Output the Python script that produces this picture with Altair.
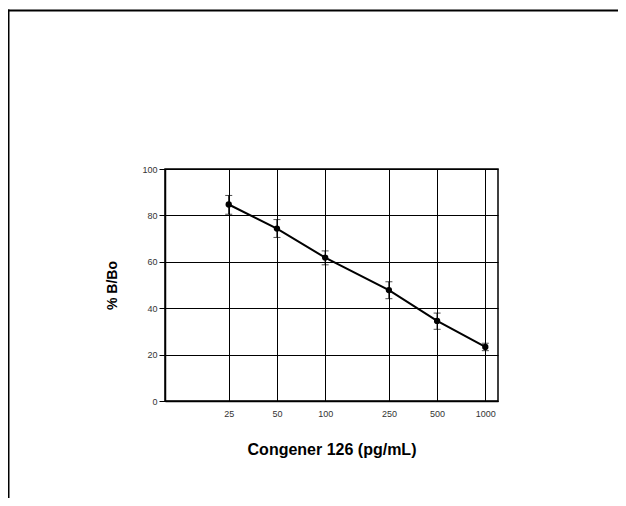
import altair as alt
import pandas as pd

conc = [25, 50, 100, 250, 500, 1000]
bbo = [84.7, 74.3, 61.8, 47.8, 34.5, 23.3]
err_hi = [88.6, 78.2, 64.7, 51.4, 37.9, 24.9]
err_lo = [80.5, 70.5, 58.7, 44.1, 30.9, 21.7]
x_ticks = [25, 50, 100, 250, 500, 1000]
y_ticks = [0, 20, 40, 60, 80, 100]

df = pd.DataFrame({"conc": conc, "bbo": bbo, "hi": err_hi, "lo": err_lo})

FONT = "Liberation Sans"

xscale = alt.Scale(type="log", domain=[10, 1200])
yscale = alt.Scale(domain=[0, 100])

x_axis = alt.Axis(values=x_ticks, format="d", title="Congener 126 (pg/mL)",
                  ticks=False, labelPadding=8, labelFontSize=9, labelColor="#333",
                  titleFontSize=16, titleFontWeight="bold", titlePadding=23,
                  grid=True, gridColor="black", gridOpacity=1, gridWidth=1,
                  domainColor="black", domainWidth=1.5, labelFont=FONT, titleFont=FONT)
y_axis = alt.Axis(values=y_ticks, title="% B/Bo", tickSize=6, tickColor="black",
                  labelPadding=2, labelFontSize=9, labelColor="#333",
                  titleFontSize=14, titleFontWeight="bold", titlePadding=22,
                  grid=True, gridColor="black", gridOpacity=1, gridWidth=1,
                  domainColor="black", domainWidth=1.5, labelFont=FONT, titleFont=FONT)

base = alt.Chart(df)

line = base.mark_line(color="black", strokeWidth=2).encode(
    x=alt.X("conc:Q", scale=xscale, axis=x_axis),
    y=alt.Y("bbo:Q", scale=yscale, axis=y_axis),
)
pts = base.mark_circle(color="black", opacity=1, size=40).encode(
    x=alt.X("conc:Q", scale=xscale),
    y=alt.Y("bbo:Q", scale=yscale),
)
bars = base.mark_rule(color="black", strokeWidth=1).encode(
    x=alt.X("conc:Q", scale=xscale),
    y=alt.Y("lo:Q", scale=yscale),
    y2="hi:Q",
)
cap_hi = base.mark_tick(color="black", thickness=1, size=7, orient="horizontal").encode(
    x=alt.X("conc:Q", scale=xscale),
    y=alt.Y("hi:Q", scale=yscale),
)
cap_lo = base.mark_tick(color="black", thickness=1, size=7, orient="horizontal").encode(
    x=alt.X("conc:Q", scale=xscale),
    y=alt.Y("lo:Q", scale=yscale),
)

frame_df = pd.DataFrame({"k": [0]})
frame_left = alt.Chart(frame_df).mark_rule(color="black", strokeWidth=2).encode(
    x=alt.value(-156.5), y=alt.value(-159.5), y2=alt.value(330)
)
frame_top = alt.Chart(frame_df).mark_rule(color="black", strokeWidth=2).encode(
    x=alt.value(-157.5), x2=alt.value(453), y=alt.value(-158.5)
)

chart = alt.layer(line, bars, cap_hi, cap_lo, pts, frame_left, frame_top).properties(
    width=333, height=232,
    padding={"left": 157, "top": 161, "right": 120, "bottom": 97},
    autosize=alt.AutoSizeParams(type="none"),
    background="white",
).configure_view(stroke="black", strokeWidth=1.5)

chart.save("out.html", embed_options={"renderer": "svg", "actions": False})
